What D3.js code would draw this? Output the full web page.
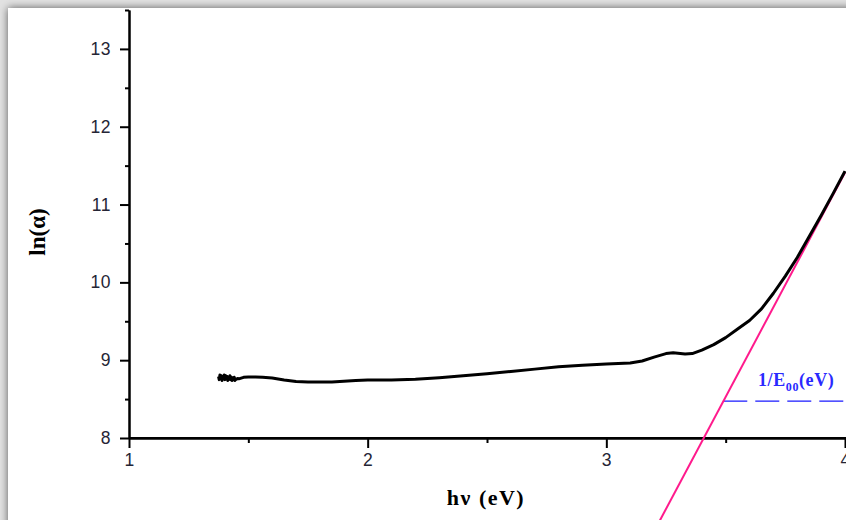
<!DOCTYPE html>
<html>
<head>
<meta charset="utf-8">
<script src="https://cdn.jsdelivr.net/npm/d3@7/dist/d3.min.js"></script>
<style>
  html, body { margin: 0; padding: 0; background: #fff; }
  svg { display: block; }
</style>
</head>
<body>
<svg id="chart" width="846" height="520"></svg>
<script>
// Photon energy (eV) and ln(alpha) of the absorption curve
const hv = [1.375, 1.378, 1.381, 1.384, 1.387, 1.390, 1.393, 1.396, 1.399, 1.402,
  1.405, 1.408, 1.411, 1.414, 1.417, 1.420, 1.423, 1.426, 1.429, 1.432,
  1.435, 1.438, 1.441, 1.444, 1.447, 1.450, 1.455, 1.460, 1.470, 1.480,
  1.500, 1.530, 1.560, 1.600,
  1.650, 1.700, 1.750, 1.800, 1.850, 1.900, 1.950, 2.000, 2.100, 2.200,
  2.300, 2.400, 2.500, 2.600, 2.700, 2.800, 2.900, 3.000, 3.050, 3.100,
  3.150, 3.200, 3.250, 3.280, 3.300, 3.330, 3.360, 3.400, 3.450, 3.500,
  3.550, 3.600, 3.650, 3.700, 3.750, 3.800, 3.850, 3.900, 3.950, 4.000];
const lnAlpha = [8.79, 8.75, 8.81, 8.76, 8.80, 8.74, 8.79, 8.77, 8.81, 8.75,
  8.80, 8.76, 8.79, 8.74, 8.78, 8.76, 8.80, 8.75, 8.78, 8.74,
  8.77, 8.75, 8.78, 8.74, 8.76, 8.755, 8.765, 8.76, 8.77, 8.78,
  8.785, 8.785, 8.78, 8.77,
  8.745, 8.725, 8.72, 8.72, 8.72, 8.73, 8.74, 8.745, 8.745, 8.755,
  8.775, 8.80, 8.825, 8.855, 8.885, 8.915, 8.935, 8.950, 8.958, 8.965,
  8.99, 9.04, 9.085, 9.095, 9.09, 9.08, 9.085, 9.13, 9.20, 9.29,
  9.40, 9.51, 9.66, 9.86, 10.08, 10.32, 10.59, 10.86, 11.14, 11.43];

// Linear fit of the absorption edge (two end points)
const fitHv = [3.20, 4.00];
const fitLn = [6.80, 11.41];
// Level marked 1/E00
const e00Level = 8.474;
const e00Start = 3.49;

// Axis ticks
const xMajor = [1, 2, 3, 4];
const xMinor = [1.5, 2.5, 3.5];
const yMajor = [8, 9, 10, 11, 12, 13];
const yMinor = [8.5, 9.5, 10.5, 11.5, 12.5, 13.5];

const svg = d3.select("#chart");
const W = 846, H = 520;

// soft frame shadow around the panel
const defs = svg.append("defs");
const f = defs.append("filter").attr("id", "frameShadow")
  .attr("x", "-10%").attr("y", "-10%").attr("width", "120%").attr("height", "120%");
f.append("feDropShadow").attr("dx", 0).attr("dy", 0)
  .attr("stdDeviation", 4).attr("flood-color", "#000").attr("flood-opacity", 0.6);
svg.append("rect").attr("x", 0).attr("y", 0).attr("width", W).attr("height", H).attr("fill", "#e2e2e2");
svg.append("rect").attr("x", 8).attr("y", 8).attr("width", W + 20).attr("height", H + 20)
  .attr("fill", "#fff").attr("filter", "url(#frameShadow)");

const x = d3.scaleLinear().domain([1, 4]).range([129, 845]);
const y = d3.scaleLinear().domain([8, 13.5]).range([438, 10]);

const tickFont = "'Liberation Sans', Arial, sans-serif";
const serif = "'Liberation Serif', 'Times New Roman', serif";

function styleAxis(g) {
  g.select(".domain").attr("stroke", "#000").attr("stroke-width", 2);
  g.selectAll(".tick line").attr("stroke", "#000").attr("stroke-width", 2);
  g.selectAll(".tick text").attr("fill", "#252535")
    .style("font-family", tickFont).style("font-size", "17.5px")
    .style("letter-spacing", "0.5px");
}

// y axis
svg.append("g").attr("transform", `translate(${x(1)},0)`)
  .call(d3.axisLeft(y).tickValues(yMinor).tickSize(4).tickFormat("").tickSizeOuter(0))
  .call(styleAxis);
svg.append("g").attr("transform", `translate(${x(1)},0)`)
  .call(d3.axisLeft(y).tickValues(yMajor).tickSize(9).tickPadding(9).tickFormat(d3.format("d")).tickSizeOuter(0))
  .call(styleAxis);

// x axis
svg.append("g").attr("transform", `translate(0,${y(8)})`)
  .call(d3.axisBottom(x).tickValues(xMinor).tickSize(5).tickFormat("").tickSizeOuter(0))
  .call(styleAxis);
svg.append("g").attr("transform", `translate(0,${y(8)})`)
  .call(d3.axisBottom(x).tickValues(xMajor).tickSize(10).tickPadding(6).tickFormat(d3.format("d")).tickSizeOuter(0))
  .call(styleAxis);
svg.append("line").attr("x1", x(1)).attr("x2", W).attr("y1", y(8)).attr("y2", y(8))
  .attr("stroke", "#000").attr("stroke-width", 2);

// axis titles
svg.append("text")
  .attr("transform", `translate(45,232) rotate(-90)`)
  .attr("text-anchor", "middle")
  .style("font-family", serif)
  .style("font-weight", "bold").style("font-size", "23px")
  .text("ln(α)");
svg.append("text")
  .attr("x", 486).attr("y", 505)
  .attr("text-anchor", "middle")
  .style("font-family", serif)
  .style("font-weight", "bold").style("font-size", "22px")
  .style("letter-spacing", "1.5px")
  .text("hν (eV)");

// 1/E00 dashed level
svg.append("line")
  .attr("x1", x(e00Start)).attr("x2", W)
  .attr("y1", y(e00Level)).attr("y2", y(e00Level))
  .attr("stroke", "#1a1aff").attr("stroke-width", 1.2)
  .attr("stroke-dasharray", "24,8");
const lab = svg.append("text")
  .attr("x", 758).attr("y", 386)
  .attr("fill", "#2a2aff")
  .style("font-family", serif)
  .style("font-weight", "bold").style("font-size", "18px")
  .style("letter-spacing", "0.6px");
lab.append("tspan").text("1/E");
lab.append("tspan").attr("dy", 5).style("font-size", "12px").text("00");
lab.append("tspan").attr("dy", -5).text("(eV)");

// fitted line
const fitData = fitHv.map((d, i) => [d, fitLn[i]]);
svg.append("path")
  .datum(fitData)
  .attr("d", d3.line().x(d => x(d[0])).y(d => y(d[1])))
  .attr("fill", "none").attr("stroke", "#ff1a8c").attr("stroke-width", 2);

// measured curve
const curve = hv.map((d, i) => [d, lnAlpha[i]]);
svg.append("path")
  .datum(curve)
  .attr("d", d3.line().x(d => x(d[0])).y(d => y(d[1])))
  .attr("fill", "none").attr("stroke", "#000").attr("stroke-width", 3)
  .attr("stroke-linejoin", "round");
</script>
</body>
</html>
